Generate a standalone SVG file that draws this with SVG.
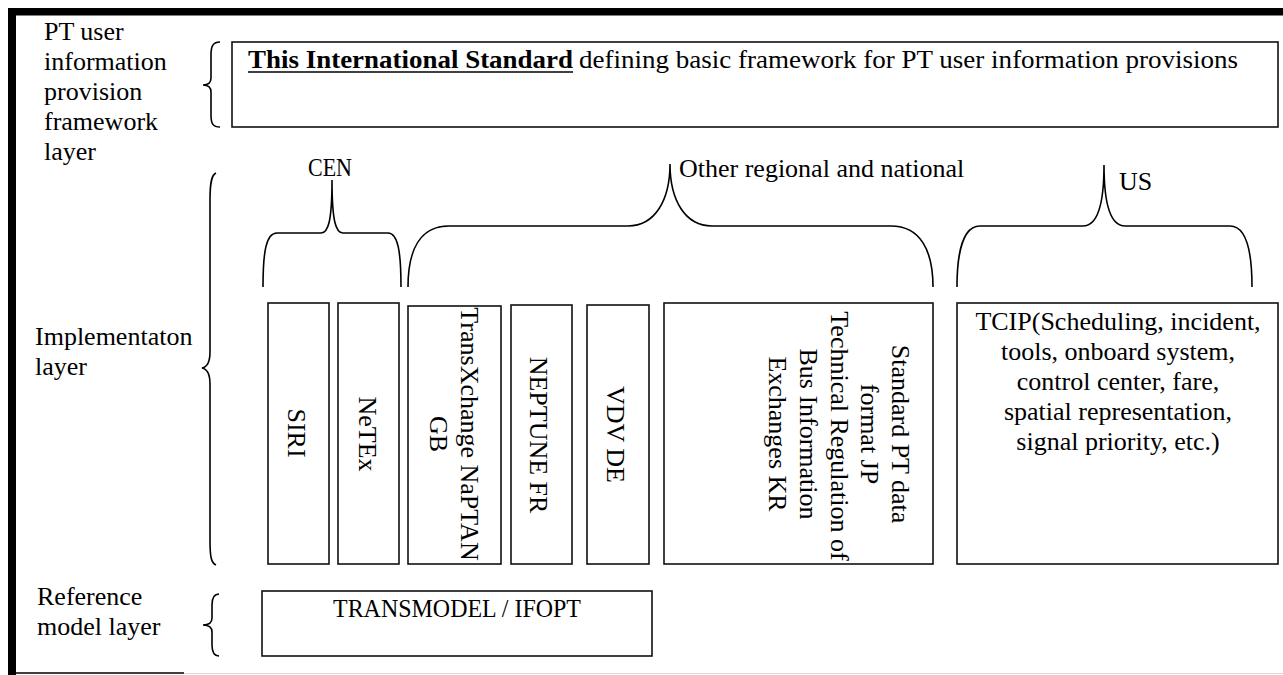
<svg xmlns="http://www.w3.org/2000/svg" width="1283" height="675" viewBox="0 0 1283 675">
  <style>
    text { font-family: "Liberation Serif", "Times New Roman", serif; font-size: 26px; fill: #000; }
    .box { fill: #fff; stroke: #111; stroke-width: 1.6; }
    .brace { fill: none; stroke: #000; stroke-width: 1.6; }
    .mid { text-anchor: middle; }
    .bold { font-weight: bold; }
  </style>
  <rect width="1283" height="675" fill="#fff"/>
  <g id="frame">
    <rect x="8" y="8" width="1275" height="7.5" fill="#000"/>
    <rect x="8" y="8" width="8" height="667" fill="#000"/>
    <line x1="16" y1="673" x2="184" y2="673" stroke="#000" stroke-width="1.5"/>
    <line x1="184" y1="673.5" x2="1283" y2="673.5" stroke="#ddd" stroke-width="1"/>
  </g>
  <g id="layer-labels">
    <text x="44" y="40">PT user</text>
    <text x="44" y="70">information</text>
    <text x="44" y="100">provision</text>
    <text x="44" y="130">framework</text>
    <text x="44" y="160">layer</text>
    <text x="35" y="345">Implementaton</text>
    <text x="35" y="375">layer</text>
    <text x="37" y="605">Reference</text>
    <text x="37" y="635">model layer</text>
  </g>
  <g id="connectors">
    <path class="brace" d="M220,42 C213,42 211,46 211,55 L211,78 C211,83 208,85 203,85 C208,85 211,87 211,92 L211,115 C211,124 213,127 220,127"/>
    <path class="brace" d="M216,173 C211,175 210,185 210,200 L210,352 C210,362 207,367 202,368 C207,369 210,374 210,384 L210,540 C210,556 211,563 216,565"/>
    <path class="brace" d="M219,594 C214,594 212,598 212,605 L212,618 C212,622 209,625 203,625 C209,625 212,628 212,632 L212,645 C212,652 214,656 219,656"/>
    <path class="brace" d="M263,287 C263,252 266,233 277,233 L321,233 C328,233 332,222 332,180 C332,222 336,233 343,233 L388,233 C398,233 401,252 401,287"/>
    <path class="brace" d="M408,287 C408,250 420,226 449,226 L628,226 C655,226 670,200 670,164 C670,200 685,226 712,226 L891,226 C920,226 933,250 933,287"/>
    <path class="brace" d="M957,287 C957,250 964,226 980,226 L1083,226 C1097,226 1104,205 1104,165 C1104,205 1111,226 1125,226 L1230,226 C1246,226 1252,250 1252,287"/>
  </g>
  <g id="group-labels">
    <text x="330" y="176" class="mid" textLength="44" lengthAdjust="spacingAndGlyphs">CEN</text>
    <text x="679" y="177">Other regional and national</text>
    <text x="1119" y="190">US</text>
  </g>
  <g id="framework-box">
    <rect class="box" x="232" y="42" width="1046" height="85"/>
    <text x="248" y="68" class="bold" textLength="325" lengthAdjust="spacingAndGlyphs">This International Standard</text>
    <line x1="248" y1="72" x2="573" y2="72" stroke="#000" stroke-width="1.5"/>
    <text x="579" y="68" textLength="659" lengthAdjust="spacingAndGlyphs">defining basic framework for PT user information provisions</text>
  </g>
  <g id="siri">
    <rect class="box" x="268" y="303" width="61" height="261"/>
    <text class="mid" transform="translate(288,433) rotate(90)">SIRI</text>
  </g>
  <g id="netex">
    <rect class="box" x="338" y="303" width="61" height="261"/>
    <text class="mid" transform="translate(358.5,434) rotate(90)">NeTEx</text>
  </g>
  <g id="transxchange">
    <rect class="box" x="408" y="306" width="93" height="258"/>
    <text class="mid" transform="translate(460.5,434) rotate(90)">TransXchange NaPTAN</text>
    <text class="mid" transform="translate(429.5,434) rotate(90)">GB</text>
  </g>
  <g id="neptune">
    <rect class="box" x="511" y="305" width="61" height="259"/>
    <text class="mid" transform="translate(530,435) rotate(90)">NEPTUNE FR</text>
  </g>
  <g id="vdv">
    <rect class="box" x="587" y="305" width="62" height="259"/>
    <text class="mid" transform="translate(607,434.5) rotate(90)">VDV DE</text>
  </g>
  <g id="jp-kr">
    <rect class="box" x="664" y="303" width="269" height="261"/>
    <text class="mid" transform="translate(892,434) rotate(90)">Standard PT data</text>
    <text class="mid" transform="translate(861,434) rotate(90)">format JP</text>
    <text class="mid" transform="translate(830.5,436) rotate(90)">Technical Regulation of</text>
    <text class="mid" transform="translate(800,434) rotate(90)">Bus Information</text>
    <text class="mid" transform="translate(769,434) rotate(90)">Exchanges KR</text>
  </g>
  <g id="tcip">
    <rect class="box" x="957" y="303" width="321" height="261"/>
    <text class="mid" x="1118" y="330">TCIP(Scheduling, incident,</text>
    <text class="mid" x="1118" y="360">tools, onboard system,</text>
    <text class="mid" x="1118" y="390">control center, fare,</text>
    <text class="mid" x="1118" y="420">spatial representation,</text>
    <text class="mid" x="1118" y="450">signal priority, etc.)</text>
  </g>
  <g id="transmodel">
    <rect class="box" x="262" y="591" width="390" height="65"/>
    <text class="mid" x="457" y="617" textLength="248" lengthAdjust="spacingAndGlyphs">TRANSMODEL / IFOPT</text>
  </g>
</svg>
